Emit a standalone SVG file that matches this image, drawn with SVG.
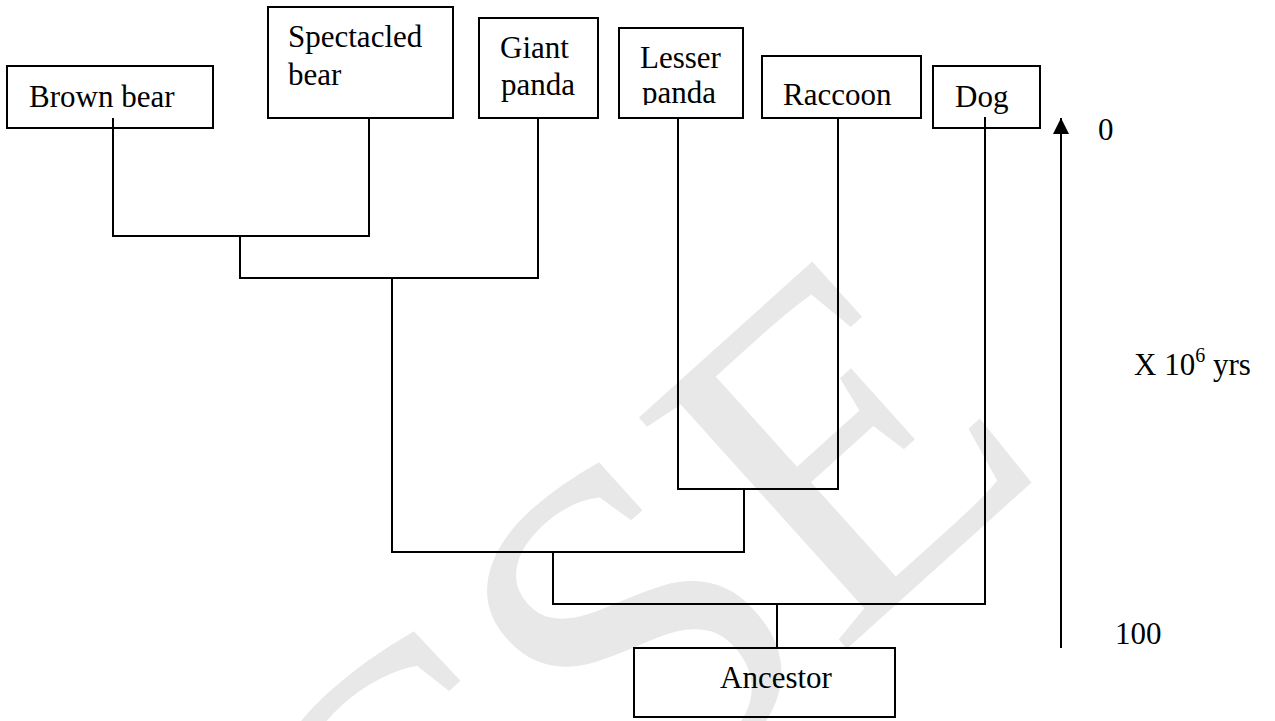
<svg xmlns="http://www.w3.org/2000/svg" width="1275" height="721" viewBox="0 0 1275 721">
  <style>
    .box { fill: none; stroke: #000; stroke-width: 2; }
    .ln { fill: none; stroke: #000; stroke-width: 2; }
    .t { font-family: "Liberation Serif", "Times New Roman", serif; font-size: 31px; fill: #000; }
    .wm { font-family: "Liberation Serif", "Times New Roman", serif; font-size: 475px; fill: #e8e8e8; }
  </style>
  <defs>
    <marker id="ah" markerWidth="16" markerHeight="16" viewBox="0 0 16 16" refX="16" refY="8" orient="auto" markerUnits="userSpaceOnUse">
      <path d="M0,0 L16,8 L0,16 Z" fill="#000"/>
    </marker>
    <clipPath id="clipLesser"><rect x="619" y="28" width="124" height="77"/></clipPath>
  </defs>
  <rect width="1275" height="721" fill="#fff"/>
  <g id="watermark">
    <text class="wm" transform="translate(625,640) rotate(-42)" text-anchor="middle" y="155">CSE</text>
  </g>
  <g id="connectors">
    <path class="ln" d="M113,118 V236 H369 V118"/>
    <path class="ln" d="M240,236 V278 H538 V118"/>
    <path class="ln" d="M392,278 V552 H744 V489"/>
    <path class="ln" d="M678,118 V489 H838 V118"/>
    <path class="ln" d="M553,552 V604 H985 V117"/>
    <path class="ln" d="M777,604 V648"/>
  </g>
  <g id="brown-bear">
    <rect class="box" x="7" y="66" width="206" height="62"/>
    <text class="t" x="29" y="107">Brown bear</text>
  </g>
  <g id="spectacled-bear">
    <rect class="box" x="268" y="7" width="185" height="111"/>
    <text class="t" x="288" y="47">Spectacled</text>
    <text class="t" x="288" y="85">bear</text>
  </g>
  <g id="giant-panda">
    <rect class="box" x="479" y="18" width="119" height="100"/>
    <text class="t" x="500" y="58">Giant</text>
    <text class="t" x="501" y="95">panda</text>
  </g>
  <g id="lesser-panda">
    <rect class="box" x="619" y="28" width="124" height="90"/>
    <g clip-path="url(#clipLesser)">
      <text class="t" x="640" y="68">Lesser</text>
      <text class="t" x="642" y="103">panda</text>
    </g>
  </g>
  <g id="raccoon">
    <rect class="box" x="762" y="56" width="159" height="62"/>
    <text class="t" x="783" y="105">Raccoon</text>
  </g>
  <g id="dog">
    <rect class="box" x="933" y="66" width="107" height="62"/>
    <text class="t" x="955" y="107">Dog</text>
  </g>
  <g id="ancestor">
    <rect class="box" x="634" y="648" width="261" height="69"/>
    <text class="t" x="720" y="688">Ancestor</text>
  </g>
  <g id="time-axis">
    <line class="ln" x1="1061" y1="648" x2="1061" y2="118" marker-end="url(#ah)"/>
    <text class="t" x="1098" y="140">0</text>
    <text class="t" x="1134" y="375">X 10<tspan font-size="20" dy="-13">6</tspan><tspan dy="13"> yrs</tspan></text>
    <text class="t" x="1115" y="644">100</text>
  </g>
</svg>
